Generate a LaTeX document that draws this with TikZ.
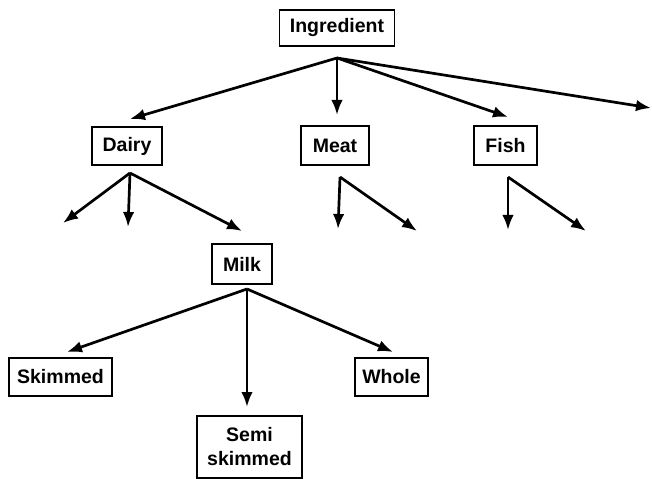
\documentclass[tikz,border=0pt]{standalone}
\usepackage{fontspec}
\setmainfont{Liberation Sans}
\usetikzlibrary{arrows.meta}
\tikzset{
  box/.style={draw, line width=1.9bp, inner sep=0pt, align=center,
    font=\bfseries\fontsize{19.5bp}{24bp}\selectfont},
  arr/.style={line width=2.7bp, -{Latex[length=15bp,width=11.5bp]}}
}
\begin{document}
\begin{tikzpicture}[x=1bp,y=-1bp]
\useasboundingbox (0,0) rectangle (652,479);
% nodes
\node[box, minimum width=115bp, minimum height=36bp] (ing) at (337,28) {Ingredient};
\node[box, minimum width=70bp, minimum height=38bp] (dairy) at (127,146) {Dairy};
\node[box, minimum width=68bp, minimum height=39bp] (meat) at (335,145.5) {Meat};
\node[box, minimum width=63bp, minimum height=39bp] (fish) at (505.5,145.5) {Fish};
\node[box, minimum width=60bp, minimum height=40bp] (milk) at (242,264) {Milk};
\node[box, minimum width=103bp, minimum height=38bp] (skim) at (60.5,377) {Skimmed};
\node[box, minimum width=73bp, minimum height=38bp] (whole) at (391.5,377) {Whole};
\node[box, minimum width=105bp, minimum height=62bp] (semi) at (249.5,447) {Semi\\skimmed};
% arrow origins and free ends
\coordinate (ingO) at (337,58);
\coordinate (ingA) at (130,119);
\coordinate (ingB) at (337,115);
\coordinate (ingC) at (508,117);
\coordinate (ingD) at (651,108);
\coordinate (dairyO) at (130,173);
\coordinate (dairyA) at (63,223);
\coordinate (dairyB) at (128,227);
\coordinate (dairyC) at (242,231);
\coordinate (meatO) at (340,177);
\coordinate (meatA) at (338,229);
\coordinate (meatB) at (417,231);
\coordinate (fishO) at (508,177);
\coordinate (fishA) at (508,230);
\coordinate (fishB) at (586,231);
\coordinate (milkO) at (247,289);
\coordinate (milkA) at (67,352);
\coordinate (milkB) at (247,407);
\coordinate (milkC) at (393,352);
% arrows
\draw[arr] (ingO) -- (ingA);
\draw[arr] (ingO) -- (ingB);
\draw[arr] (ingO) -- (ingC);
\draw[arr] (ingO) -- (ingD);
\draw[arr] (dairyO) -- (dairyA);
\draw[arr] (dairyO) -- (dairyB);
\draw[arr] (dairyO) -- (dairyC);
\draw[arr] (meatO) -- (meatA);
\draw[arr] (meatO) -- (meatB);
\draw[arr] (fishO) -- (fishA);
\draw[arr] (fishO) -- (fishB);
\draw[arr] (milkO) -- (milkA);
\draw[arr] (milkO) -- (milkB);
\draw[arr] (milkO) -- (milkC);
\end{tikzpicture}
\end{document}
